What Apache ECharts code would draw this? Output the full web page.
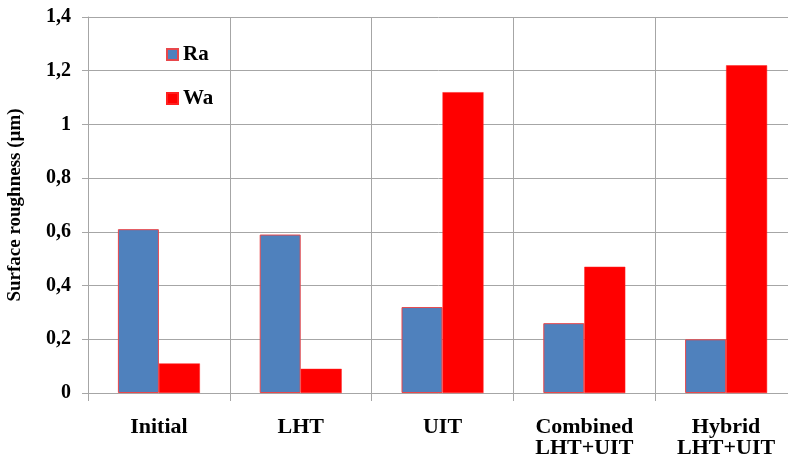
<!DOCTYPE html>
<html>
<head>
<meta charset="utf-8">
<script src="https://cdn.jsdelivr.net/npm/echarts@6/dist/echarts.min.js"></script>
<style>
  html, body { margin: 0; padding: 0; background: #ffffff; }
  #chart { width: 788px; height: 462px; }
</style>
</head>
<body>
<div id="chart"></div>
<script>
// Surface roughness per treatment
const categories = ['Initial', 'LHT', 'UIT', 'Combined\nLHT+UIT', 'Hybrid\nLHT+UIT'];
const raValues = [0.61, 0.59, 0.32, 0.26, 0.20];
const waValues = [0.11, 0.09, 1.12, 0.47, 1.22];
const yTicks = [0, 0.2, 0.4, 0.6, 0.8, 1, 1.2, 1.4];

const FONT = '"Liberation Serif", "DejaVu Serif", serif';
const GRID = '#a6a6a6';

const chart = echarts.init(document.getElementById('chart'), null, { renderer: 'canvas' });

chart.setOption({
  backgroundColor: '#ffffff',
  animation: false,
  grid: { left: 88, top: 17, right: -9, bottom: 69, containLabel: false, outerBoundsMode: 'none' },
  legend: {
    orient: 'vertical',
    left: 161,
    top: 39,
    itemWidth: 11,
    itemHeight: 11,
    itemGap: 23,
    icon: 'rect',
    textStyle: { fontFamily: FONT, fontWeight: 'bold', fontSize: 21, color: '#000' },
    data: ['Ra', 'Wa']
  },
  xAxis: {
    type: 'category',
    data: categories,
    axisLine: { show: true, lineStyle: { color: GRID, width: 1 } },
    axisTick: { show: true, length: 8, lineStyle: { color: GRID } },
    splitLine: { show: true, lineStyle: { color: GRID, width: 1 } },
    axisLabel: {
      fontFamily: FONT, fontWeight: 'bold', fontSize: 22, color: '#000',
      margin: 24, lineHeight: 21
    }
  },
  yAxis: {
    type: 'value',
    min: 0,
    max: 1.4,
    interval: 0.2,
    name: 'Surface roughness (µm)',
    nameLocation: 'middle',
    nameGap: 63,
    nameRotate: 90,
    nameTextStyle: { fontFamily: FONT, fontWeight: 'bold', fontSize: 19, color: '#000' },
    axisLine: { show: true, lineStyle: { color: GRID } },
    axisTick: { show: true, length: 6, lineStyle: { color: GRID } },
    splitLine: { show: true, lineStyle: { color: GRID, width: 1 } },
    axisLabel: {
      fontFamily: FONT, fontWeight: 'bold', fontSize: 20, color: '#000', margin: 17,
      formatter: v => {
        const t = yTicks.find(x => Math.abs(x - v) < 1e-9);
        return String(t !== undefined ? t : v).replace('.', ',');
      }
    }
  },
  series: [
    {
      name: 'Ra',
      type: 'bar',
      data: raValues,
      barWidth: 41,
      barGap: '0%',
      itemStyle: { color: '#4f81bd', borderColor: '#e8474b', borderWidth: 1 }
    },
    {
      name: 'Wa',
      type: 'bar',
      data: waValues,
      barWidth: 41,
      barGap: '0%',
      itemStyle: { color: '#ff0000', borderColor: '#ff2020', borderWidth: 0.5 }
    }
  ]
});
</script>
</body>
</html>
